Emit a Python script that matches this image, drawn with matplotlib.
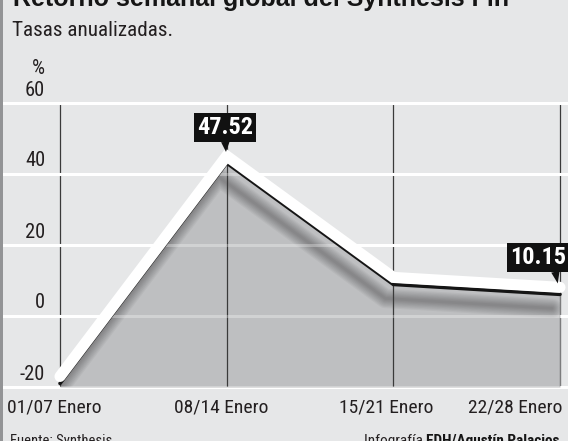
import matplotlib
matplotlib.use("Agg")
import matplotlib.pyplot as plt
from matplotlib import font_manager, transforms
from matplotlib.patches import Rectangle
import numpy as np

# ---------------- data ----------------
periods = ["01/07 Enero", "08/14 Enero", "15/21 Enero", "22/28 Enero"]
returns = [-19.0, 43.1, 8.9, 6.1]
y_ticks = [60, 40, 20, 0, -20]
callout_idx = [1, 3]
callout_text = ["47.52", "10.15"]
title = "Retorno semanal global del Synthesis Fin"
subtitle = "Tasas anualizadas."
unit = "%"
source = "Fuente: Synthesis"
credit_plain = "Infografía "
credit_bold = "EDH/Agustín Palacios"

# ---------------- fonts ----------------
names = {f.name for f in font_manager.fontManager.ttflist}


def pick(*cands):
    for c in cands:
        if c in names:
            return c
    return "DejaVu Sans"


NARROW = pick("Liberation Sans Narrow", "Roboto Condensed", "Roboto", "Liberation Sans")
HEAVY = pick("Liberation Sans", "Roboto", "DejaVu Sans")

W, H = 568, 441
BG = "#e6e7e8"
FILL = "#bebfc1"
INK = "#231f20"

fig = plt.figure(figsize=(W / 100, H / 100), dpi=100)
fig.patch.set_facecolor(BG)

# axes: x=0 at px 60, x=3 at px 560 ; y=60 at px 103, y=-20 at px 387
ax = fig.add_axes([3 / W, (H - 387) / H, 565 / W, (387 - 103) / H])
ppu = (560 - 60) / 3
ax.set_xlim(-(60 - 3) / ppu, 3 + (568 - 560) / ppu)
ax.set_ylim(-20, 60)
ax.axis("off")

x = np.arange(len(periods))

# vertical guide lines (under grid)
ax.vlines(x, -20, 60, color="#3a3a3a", lw=0.9, zorder=1)
# white horizontal grid
for v in y_ticks:
    ax.axhline(v, color="white", lw=2.2, zorder=1.5, clip_on=False)

# filled area
fill = ax.fill_between(x, returns, -20, color=FILL, lw=0, zorder=2)
fpath = fill.get_paths()[0]

# blurred drop shadow
shadow_tr = ax.transData + transforms.ScaledTranslation(-8 / 100, -14 / 100, fig.dpi_scale_trans)
for lw in np.linspace(14, 2, 8):
    ln, = ax.plot(x, returns, color="black", alpha=0.04, lw=lw, transform=shadow_tr,
                  solid_capstyle="round", solid_joinstyle="round", zorder=2.5)
    ln.set_clip_path(fpath, ax.transData)

# guide lines and faint grid over the fill
vl = ax.vlines(x, -20, 60, color="#3a3a3a", lw=0.9, zorder=3)
vl.set_clip_path(fpath, ax.transData)
for v in y_ticks:
    hl = ax.axhline(v, color="white", lw=2.2, alpha=0.3, zorder=3.5)
    hl.set_clip_path(fpath, ax.transData)

# black line + offset white line
ax.plot(x, returns, color="#151515", lw=2.6, solid_joinstyle="miter",
        solid_capstyle="round", zorder=4, clip_on=False)
white_tr = ax.transData + transforms.ScaledTranslation(0, 7 / 100, fig.dpi_scale_trans)
ax.plot(x, returns, color="white", lw=8, transform=white_tr, solid_joinstyle="miter",
        solid_capstyle="round", zorder=4.5, clip_on=False)

# callouts
call_offsets = [(-1.5, 35.5), (-22, 37)]
call_rel = [(0.5, 0.0), (0.8, 0.0)]
for i, txt, off, rp in zip(callout_idx, callout_text, call_offsets, call_rel):
    ax.annotate(txt, xy=(x[i], returns[i]), xytext=off, textcoords="offset pixels",
                ha="center", va="center", fontsize=17.5, fontweight="bold",
                family=NARROW, color="white", zorder=6, annotation_clip=False,
                bbox=dict(boxstyle="square,pad=0.12", fc="#111111", ec="none"),
                arrowprops=dict(arrowstyle="wedge,tail_width=0.35", fc="#111111",
                                ec="none", shrinkA=0, shrinkB=8, relpos=rp))

# y tick labels (above grid lines)
ylab_tr = transforms.offset_copy(ax.get_yaxis_transform(), fig=fig, x=0, y=7.5, units="dots")
xl = (45 - 3) / 565
for v in y_ticks:
    ax.text(xl, v, str(v), transform=ylab_tr, ha="right", va="baseline",
            fontsize=14.8, family=NARROW, color=INK)
unit_tr = transforms.offset_copy(ax.get_yaxis_transform(), fig=fig, x=0, y=29, units="dots")
ax.text(xl, y_ticks[0], unit, transform=unit_tr, ha="right", va="baseline",
        fontsize=14.8, family=NARROW, color=INK)

# x labels
xlabel_px = [54, 221, 386, 515]
for px, lab in zip(xlabel_px, periods):
    fig.text(px / W, (H - 412) / H, lab, ha="center", va="baseline",
             fontsize=14, family=NARROW, color=INK)

# title (cropped at the top), subtitle
t = fig.text(13 / W, 1 - 6 / H, title, ha="left", va="baseline", fontsize=20,
             fontweight="bold", family=HEAVY, color="#151515")
fig.canvas.draw()
wpx = t.get_window_extent().width
t.set_fontsize(20 * 496 / wpx)

fig.text(12 / W, 1 - 36 / H, subtitle, ha="left", va="baseline", fontsize=15.2,
         family=NARROW, color=INK)

# footer
fig.text(10 / W, (H - 445) / H, source, ha="left", va="baseline", fontsize=10.5,
         family=NARROW, color=INK)
cb = fig.text(560 / W, (H - 445) / H, credit_bold, ha="right", va="baseline", fontsize=11,
              family=NARROW, fontweight="bold", color="#151515")
fig.canvas.draw()
bb = cb.get_window_extent()
fig.text(bb.x0 / W, (H - 445) / H, credit_plain, ha="right", va="baseline", fontsize=11,
         family=NARROW, color=INK)

# left border bar
fig.add_artist(Rectangle((0, 0), 3 / W, 1, transform=fig.transFigure,
                         color="#939496", lw=0, zorder=10))

fig.savefig("out.png", dpi=100, facecolor=BG)
